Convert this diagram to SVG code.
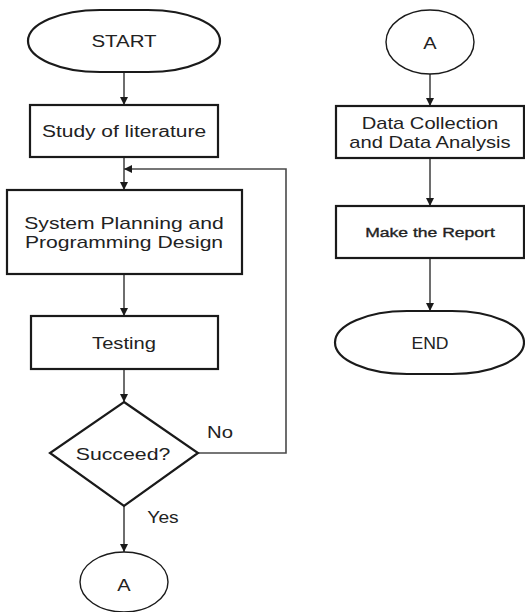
<svg xmlns="http://www.w3.org/2000/svg" width="525" height="612" viewBox="0 0 525 612">
<defs>
<marker id="ah" viewBox="0 0 10 10" refX="10" refY="5" markerWidth="8" markerHeight="8" markerUnits="userSpaceOnUse" orient="auto">
<path d="M0,0 L10,5 L0,10 z" fill="#1a1a1a"/>
</marker>
<style>
.n{fill:#fff;stroke:#1a1a1a;stroke-width:2.2}
.c{fill:none;stroke:#4a4a4a;stroke-width:1.6}
text{font-family:"Liberation Sans",Arial,sans-serif;font-size:16px;fill:#222;text-anchor:middle}
.sm{font-size:13.5px;stroke:#222;stroke-width:0.35}
</style>
</defs>
<rect width="525" height="612" fill="#fff"/>
<g id="connectors">
<path class="c" d="M124,72 V105" marker-end="url(#ah)"/>
<path class="c" d="M124,157 V190" marker-end="url(#ah)"/>
<path class="c" d="M198,453 H286 V169 H124" marker-end="url(#ah)"/>
<path class="c" d="M124,274 V316" marker-end="url(#ah)"/>
<path class="c" d="M124,369 V402" marker-end="url(#ah)"/>
<path class="c" d="M124,506 V552" marker-end="url(#ah)"/>
<path class="c" d="M430,74 V106" marker-end="url(#ah)"/>
<path class="c" d="M430,158 V206" marker-end="url(#ah)"/>
<path class="c" d="M430,258 V311" marker-end="url(#ah)"/>
<text transform="translate(220,438) scale(1.27,1)">No</text>
<text transform="translate(163,523) scale(1.2,1)">Yes</text>
</g>
<g id="start">
<rect class="n" x="28" y="10" width="192" height="62" rx="72" ry="31"/>
<text transform="translate(124,47) scale(1.28,1)">START</text>
</g>
<g id="study">
<rect class="n" x="30" y="105" width="188" height="52"/>
<text transform="translate(124,137) scale(1.31,1)">Study of literature</text>
</g>
<g id="planning">
<rect class="n" x="7" y="190" width="235" height="84"/>
<text transform="translate(124,229) scale(1.32,1)">System Planning and</text>
<text transform="translate(124,248) scale(1.32,1)">Programming Design</text>
</g>
<g id="testing">
<rect class="n" x="31" y="316" width="187" height="53"/>
<text transform="translate(124,349) scale(1.26,1)">Testing</text>
</g>
<g id="succeed">
<polygon class="n" points="124,402 198,453 124,506 50,453"/>
<text transform="translate(123,460) scale(1.33,1)">Succeed?</text>
</g>
<g id="connector-a-out">
<ellipse class="n" cx="124" cy="582" rx="44" ry="30" style="stroke-width:1.4"/>
<text transform="translate(124,591) scale(1.25,1)">A</text>
</g>
<g id="connector-a-in">
<ellipse class="n" cx="430" cy="42" rx="44" ry="32" style="stroke-width:1.4"/>
<text transform="translate(430,49) scale(1.25,1)">A</text>
</g>
<g id="data">
<rect class="n" x="336" y="106" width="188" height="52"/>
<text transform="translate(430,129) scale(1.26,1)">Data Collection</text>
<text transform="translate(430,148) scale(1.26,1)">and Data Analysis</text>
</g>
<g id="report">
<rect class="n" x="336" y="206" width="188" height="52"/>
<text class="sm" transform="translate(430,237) scale(1.3,1)">Make the Report</text>
</g>
<g id="end">
<rect class="n" x="335" y="311" width="189" height="63" rx="72" ry="31.5"/>
<text transform="translate(430,349) scale(1.1,1)">END</text>
</g>
</svg>
